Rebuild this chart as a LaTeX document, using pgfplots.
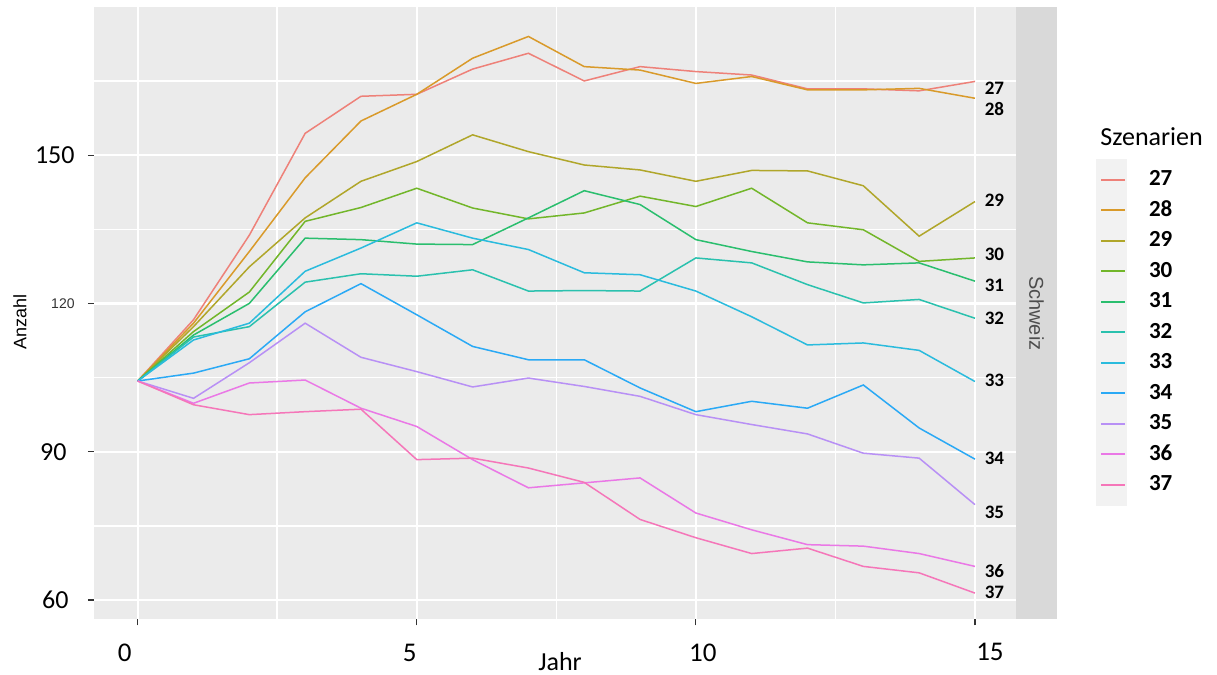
\documentclass[border=0pt]{standalone}
\usepackage{pgfplots}
\pgfplotsset{compat=1.18}
\usepackage{fontspec}
\setmainfont{Carlito}
\newfontfamily\lib{Liberation Sans}
\definecolor{c27}{HTML}{EE8179}
\definecolor{c28}{HTML}{D99A2A}
\definecolor{c29}{HTML}{B0A62A}
\definecolor{c30}{HTML}{72B62A}
\definecolor{c31}{HTML}{2ABE6E}
\definecolor{c32}{HTML}{2AC1AE}
\definecolor{c33}{HTML}{2ABBDD}
\definecolor{c34}{HTML}{2AA9F5}
\definecolor{c35}{HTML}{B890F5}
\definecolor{c36}{HTML}{EA78E6}
\definecolor{c37}{HTML}{F576B9}
\definecolor{panel}{HTML}{EBEBEB}
\definecolor{stripc}{HTML}{D9D9D9}
\definecolor{keybg}{HTML}{F2F2F2}
\definecolor{tickc}{HTML}{333333}
\definecolor{striptext}{HTML}{4D4D4D}

\pgfplotstableread{
x s27 s28 s29 s30 s31 s32 s33 s34 s35 s36 s37
0 104.3 104.3 104.3 104.3 104.3 104.3 104.3 104.3 104.3 104.3 104.3
1 116.7 116.0 115.3 114.3 113.6 113.2 112.6 105.9 100.8 99.8 99.5
2 133.8 130.5 127.4 122.3 120.0 115.3 116.0 108.8 108.0 103.9 97.5
3 154.4 145.4 137.3 136.6 133.2 124.3 126.5 118.3 116.0 104.5 98.1
4 161.9 156.9 144.7 139.4 132.9 126.0 131.2 124.0 109.1 98.8 98.6
5 162.3 162.3 148.7 143.3 132.0 125.5 136.3 117.7 106.2 95.1 88.4
6 167.4 169.6 154.1 139.3 131.9 126.8 133.2 111.3 103.1 88.4 88.7
7 170.6 174.0 150.7 137.1 137.3 122.5 130.9 108.6 104.9 82.7 86.7
8 165.0 167.9 148.0 138.3 142.8 122.6 126.2 108.6 103.2 83.7 83.8
9 167.9 167.2 147.0 141.7 140.0 122.5 125.8 102.9 101.2 84.7 76.3
10 166.9 164.5 144.7 139.6 132.9 129.2 122.5 98.1 97.5 77.6 72.6
11 166.2 165.9 146.9 143.3 130.5 128.2 117.3 100.2 95.5 74.2 69.4
12 163.4 163.2 146.8 136.3 128.4 123.8 111.6 98.8 93.6 71.2 70.5
13 163.4 163.2 143.8 134.9 127.8 120.1 112.0 103.5 89.7 70.9 66.8
14 163.0 163.5 133.6 128.5 128.2 120.8 110.5 94.8 88.7 69.4 65.5
15 164.9 161.5 140.6 129.2 124.5 117.0 104.2 88.5 79.3 66.8 61.4
}\data

\begin{document}
\begin{tikzpicture}
\useasboundingbox (-47pt,-27.85pt) rectangle (561.5pt,309.65pt);
\begin{axis}[
  at={(0,0)}, anchor=south west,
  scale only axis, width=460.85pt, height=306pt,
  xmin=-0.783, xmax=15.73, ymin=56.1, ymax=179.9,
  clip=false,
  axis background/.style={fill=panel},
  axis line style={draw=none},
  xtick={0,5,10,15}, ytick={60,90,120,150},
  minor xtick={2.5,7.5,12.5}, minor ytick={75,105,135,165},
  grid=both,
  major grid style={white, line width=1.1pt},
  minor grid style={white, line width=0.75pt},
  tick align=outside, major tick length=3pt, minor tick length=0pt,
  major tick style={tickc, line width=0.6pt},
  xtick pos=bottom, ytick pos=left,
  xticklabels={{\hspace*{-6.5pt}0\hspace*{6.5pt}},{\hspace*{-3.5pt}5\hspace*{3.5pt}},{\hspace*{3.5pt}\raisebox{1pt}{10}\hspace*{-3.5pt}},{\hspace*{7.5pt}\raisebox{1.5pt}{15}\hspace*{-7.5pt}}},
  yticklabels={{60\hspace*{1pt}},{90\hspace*{2pt}},{{\lib\color{tickc}\fontsize{7}{8}\selectfont 120}\hspace*{-2pt}},{150\hspace*{-2pt}}},
  xticklabel style={font=\fontsize{13.5}{14}\selectfont, anchor=center, inner sep=0pt, yshift=-14pt},
  yticklabel style={font=\fontsize{13}{14}\selectfont, anchor=east, inner sep=0pt, xshift=-8.5pt},
  every axis plot/.append style={line width=0.75pt, no markers},
  legend style={at={(1.0915,0.7431)}, anchor=north west, draw=none, fill=none,
    inner sep=0pt, outer sep=0pt, row sep=0pt, column sep=11.5pt,
    font=\bfseries\fontsize{11.5}{12}\selectfont,
    nodes={inner sep=0pt}},
  legend cell align=left,
  legend image code/.code={
    \path[draw=none,fill=none] (0pt,-7.625pt) rectangle (12pt,7.625pt);
    \draw[#1, line width=1pt] (0pt,0pt) -- (12pt,0pt);
  },
]
\fill[keybg] (rel axis cs:1.0871,0.1851) rectangle (rel axis cs:1.1207,0.7521);
\fill[stripc] (rel axis cs:1,0) rectangle ([xshift=20.8pt]rel axis cs:1,1);
\node[rotate=-90, font=\lib\fontsize{10}{12}\selectfont, text=striptext] at ([xshift=10.4pt]rel axis cs:1,0.5) {Schweiz};
\node[rotate=90, font=\lib\fontsize{9}{10}\selectfont] at ([xshift=-37pt]rel axis cs:0,0.4858) {Anzahl};
\node[font=\fontsize{13}{14}\selectfont] at (rel axis cs:0.5056,-0.0698) {Jahr};
\node[anchor=west, inner sep=0pt, font=\fontsize{13}{14}\selectfont] at (rel axis cs:1.0915,0.788) {Szenarien};

\addplot[c27] table[x=x,y=s27] {\data};
\addplot[c28] table[x=x,y=s28] {\data};
\addplot[c29] table[x=x,y=s29] {\data};
\addplot[c30] table[x=x,y=s30] {\data};
\addplot[c31] table[x=x,y=s31] {\data};
\addplot[c32] table[x=x,y=s32] {\data};
\addplot[c33] table[x=x,y=s33] {\data};
\addplot[c34] table[x=x,y=s34] {\data};
\addplot[c35] table[x=x,y=s35] {\data};
\addplot[c36] table[x=x,y=s36] {\data};
\addplot[c37] table[x=x,y=s37] {\data};
\legend{27,28,29,30,31,32,33,34,35,36,37}

\begin{scope}[every node/.style={anchor=west, inner sep=0pt, font=\bfseries\fontsize{9.5}{10}\selectfont}]
\node at (axis cs:15.17,163.45) {27};
\node at (axis cs:15.17,159.3) {28};
\node at (axis cs:15.17,140.9) {29};
\node at (axis cs:15.17,130.0) {30};
\node at (axis cs:15.17,123.7) {31};
\node at (axis cs:15.17,117.0) {32};
\node at (axis cs:15.17,104.5) {33};
\node at (axis cs:15.17,88.7) {34};
\node at (axis cs:15.17,77.8) {35};
\node at (axis cs:15.17,65.9) {36};
\node at (axis cs:15.17,61.5) {37};
\end{scope}
\end{axis}
\end{tikzpicture}
\end{document}
